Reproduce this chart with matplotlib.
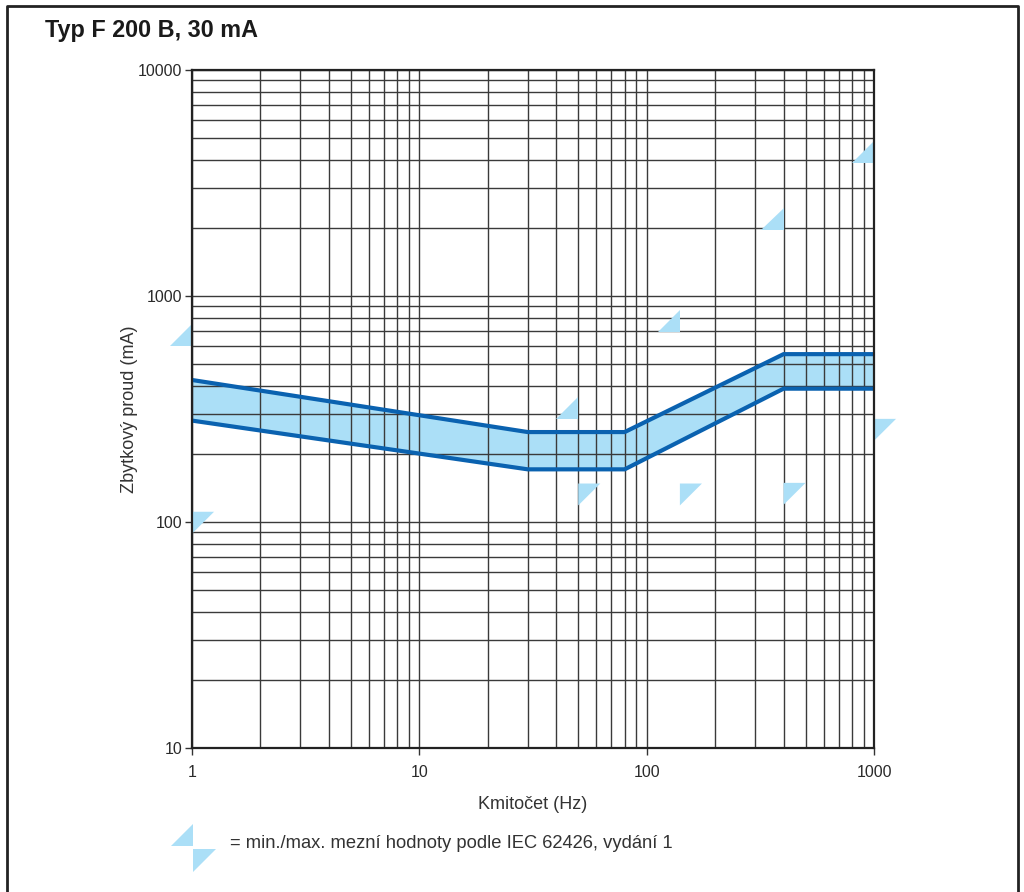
import matplotlib.pyplot as plt
from matplotlib.patches import Polygon
from matplotlib.lines import Line2D
from matplotlib.ticker import LogLocator, FixedLocator, NullFormatter

plt.rcParams['font.family'] = ['Liberation Sans', 'DejaVu Sans']

# band limits (Hz, mA)
band_freq = [1, 30, 80, 400, 1000]
band_upper = [425, 250, 250, 553, 553]
band_lower = [281, 171, 171, 389, 389]

# IEC limit markers (Hz, mA)
max_freq = [1, 50, 140, 400, 1000]
max_current = [600, 286, 693, 1958, 3890]
min_freq = [1, 50, 140, 400, 1000]
min_current = [111, 148, 148, 149, 286]

x_ticks = [1, 10, 100, 1000]
y_ticks = [10, 100, 1000, 10000]

band_line = '#0a62b0'
band_fill = '#abdff7'
tri_color = '#abdff7'
tri = 0.097  # triangle size in decades

fig = plt.figure(figsize=(10.24, 8.92), dpi=100)
ax = fig.add_axes([192 / 1024, 1 - 748 / 892, 682 / 1024, 678 / 892])
ax.set_xscale('log')
ax.set_yscale('log')
ax.set_xlim(1, 1000)
ax.set_ylim(10, 10000)

ax.xaxis.set_major_locator(FixedLocator(x_ticks))
ax.yaxis.set_major_locator(FixedLocator(y_ticks))
ax.xaxis.set_minor_locator(LogLocator(base=10, subs=range(2, 10)))
ax.yaxis.set_minor_locator(LogLocator(base=10, subs=range(2, 10)))
ax.xaxis.set_minor_formatter(NullFormatter())
ax.yaxis.set_minor_formatter(NullFormatter())
ax.set_xticklabels([str(v) for v in x_ticks])
ax.set_yticklabels([str(v) for v in y_ticks])
ax.tick_params(which='major', direction='out', length=5, width=1, labelsize=11.5,
               color='#333333', labelcolor='#2a2a2a')
ax.tick_params(axis='x', which='major', pad=7)
ax.tick_params(axis='y', which='major', pad=2)
ax.tick_params(which='minor', length=0)
ax.set_axisbelow(False)
ax.grid(True, which='both', color='#3a3a3a', linewidth=1.0, zorder=4)
for s in ax.spines.values():
    s.set_linewidth(1.6)
    s.set_color('#222222')
    s.set_zorder(7)

ax.fill_between(band_freq, band_lower, band_upper, color=band_fill, zorder=2, linewidth=0)
ax.plot(band_freq, band_upper, color=band_line, lw=3, zorder=5, solid_joinstyle='miter')
ax.plot(band_freq, band_lower, color=band_line, lw=3, zorder=5, solid_joinstyle='miter')

k = 10 ** tri
for f, c in zip(max_freq, max_current):
    ax.add_patch(Polygon([(f / k, c), (f, c), (f, c * k)], closed=True,
                         facecolor=tri_color, edgecolor='none', zorder=6, clip_on=False))
for f, c in zip(min_freq, min_current):
    ax.add_patch(Polygon([(f, c), (f * k, c), (f, c / k)], closed=True,
                         facecolor=tri_color, edgecolor='none', zorder=6, clip_on=False))

ax.set_xlabel('Kmitočet (Hz)', fontsize=13, color='#333333', labelpad=12)
ax.set_ylabel('Zbytkový proud (mA)', fontsize=13, color='#333333', labelpad=0)

fig.text(45 / 1024, 1 - 30 / 892, 'Typ F 200 B, 30 mA', fontsize=16.8, fontweight='bold',
         color='#1a1a1a', va='center', ha='left')

# legend symbols at the bottom
def px(x, y):
    return (x / 1024, 1 - y / 892)

fig.patches.append(Polygon([px(171, 846), px(193, 846), px(193, 824)], closed=True,
                           transform=fig.transFigure, facecolor=tri_color, edgecolor='none'))
fig.patches.append(Polygon([px(193, 849), px(216, 849), px(193, 872)], closed=True,
                           transform=fig.transFigure, facecolor=tri_color, edgecolor='none'))
fig.text(230 / 1024, 1 - 843 / 892, '= min./max. mezní hodnoty podle IEC 62426, vydání 1',
         fontsize=13.2, color='#333333', va='center', ha='left')

# outer frame
fig.lines.append(Line2D([7 / 1024, 7 / 1024, 1018 / 1024, 1018 / 1024],
                        [0, 1 - 6 / 892, 1 - 6 / 892, 0],
                        transform=fig.transFigure, color='#222222', lw=2))

fig.savefig('out.png', dpi=100)
